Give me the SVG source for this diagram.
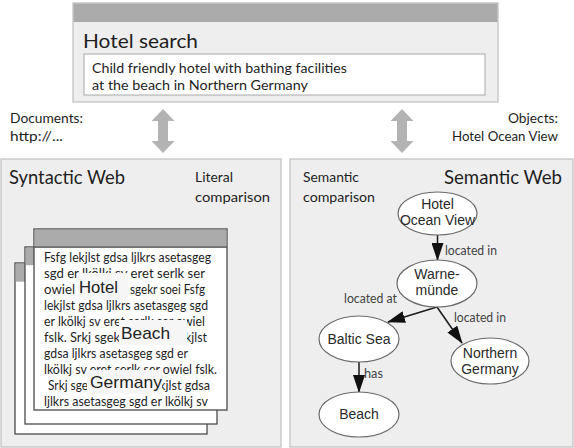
<svg xmlns="http://www.w3.org/2000/svg" width="574" height="448" viewBox="0 0 574 448">
<style>
.panel{fill:#eeeeee;stroke:#c4c4c4;stroke-width:1.3}
.hdr{fill:#ababab}
.cal{font-family:Lato,"Open Sans",sans-serif;fill:#1e1e1e}
.big{font-size:20px}
.mid{font-size:14px}
.doc{font-size:13.5px}
.lbl{font-family:Lato,"Open Sans",sans-serif;font-size:12.5px;fill:#444}
.node ellipse{fill:#ffffff;stroke:#6a6a6a;stroke-width:1.2}
.nt{font-family:"Liberation Sans",Arial,sans-serif;font-size:14px;fill:#2a2a2a;text-anchor:middle}
.ov{font-family:"Liberation Sans",Arial,sans-serif;font-size:17px;fill:#222}
.ovbg{fill:#f6f6f6}
.sheet{fill:#ffffff;stroke:#4a4a4a;stroke-width:1.3}
.edge{stroke:#1a1a1a;stroke-width:1.5;fill:none;marker-end:url(#ah)}
.dbl{fill:#b3b3b3}
</style>
<defs>
<marker id="ah" markerUnits="userSpaceOnUse" markerWidth="18" markerHeight="12" refX="17" refY="6" orient="auto">
<path d="M0,0 L18,6 L0,12 z" fill="#111"/>
</marker>
<path id="darrow" d="M0,0 L11.5,12 L5,12 L5,32 L11.5,32 L0,44 L-11.5,32 L-5,32 L-5,12 L-11.5,12 z"/>
</defs>

<g id="hotel-search">
<rect x="73" y="3" width="425" height="99" class="panel"/>
<rect x="73.5" y="3.5" width="424" height="18.5" class="hdr"/>
<text x="83" y="48" class="cal big" textLength="115" lengthAdjust="spacingAndGlyphs">Hotel search</text>
<rect x="84" y="54" width="401" height="41" fill="#ffffff" stroke="#a8a8a8" stroke-width="1"/>
<text x="92" y="73" class="cal mid" textLength="255" lengthAdjust="spacingAndGlyphs">Child friendly hotel with bathing facilities</text>
<text x="92" y="90" class="cal mid" textLength="216" lengthAdjust="spacingAndGlyphs">at the beach in Northern Germany</text>
</g>

<g id="connectors-top">
<use href="#darrow" x="163" y="109" class="dbl"/>
<use href="#darrow" x="402" y="109" class="dbl"/>
</g>

<g id="side-labels">
<text x="10" y="123" class="cal mid" textLength="73" lengthAdjust="spacingAndGlyphs">Documents:</text>
<text x="10" y="141" class="cal mid" textLength="53" lengthAdjust="spacingAndGlyphs">http://...</text>
<text x="508" y="123" class="cal mid" textLength="50" lengthAdjust="spacingAndGlyphs">Objects:</text>
<text x="452" y="141" class="cal mid" textLength="106" lengthAdjust="spacingAndGlyphs">Hotel Ocean View</text>
</g>

<g id="syntactic-web">
<rect x="1" y="159" width="280" height="288" class="panel"/>
<text x="9" y="184" class="cal big" textLength="116" lengthAdjust="spacingAndGlyphs">Syntactic Web</text>
<text x="195" y="182" class="cal mid" textLength="38" lengthAdjust="spacingAndGlyphs">Literal</text>
<text x="195" y="202" class="cal mid" textLength="75" lengthAdjust="spacingAndGlyphs">comparison</text>
</g>

<g id="doc-back">
<rect x="15" y="263" width="192" height="171" class="sheet"/>
<rect x="15.7" y="263.7" width="190.6" height="18" class="hdr"/>
</g>
<g id="doc-middle">
<rect x="25" y="247" width="192" height="177" class="sheet"/>
<rect x="25.7" y="247.7" width="190.6" height="17.5" class="hdr"/>
</g>
<g id="doc-front">
<rect x="34" y="229" width="193" height="181" class="sheet"/>
<rect x="34.7" y="229.7" width="191.6" height="17.5" class="hdr"/>
<line x1="34" y1="247.2" x2="227" y2="247.2" stroke="#4a4a4a" stroke-width="1.2"/>
<text x="44" y="262" class="cal doc" textLength="167" lengthAdjust="spacingAndGlyphs">Fsfg lekjlst gdsa ljlkrs asetasgeg</text>
<text x="44" y="278" class="cal doc" textLength="161" lengthAdjust="spacingAndGlyphs">sgd er lkölkj sv eret serlk ser</text>
<text x="44" y="294" class="cal doc" textLength="31" lengthAdjust="spacingAndGlyphs">owiel</text>
<text x="130" y="294" class="cal doc" textLength="75" lengthAdjust="spacingAndGlyphs">sgekr soei Fsfg</text>
<text x="44" y="310" class="cal doc" textLength="164" lengthAdjust="spacingAndGlyphs">lekjlst gdsa ljlkrs asetasgeg sgd</text>
<text x="44" y="326" class="cal doc" textLength="161" lengthAdjust="spacingAndGlyphs">er lkölkj sv eret serlk ser owiel</text>
<text x="44" y="342" class="cal doc" textLength="76" lengthAdjust="spacingAndGlyphs">fslk.  Srkj sgek</text>
<text x="185" y="342" class="cal doc" textLength="22" lengthAdjust="spacingAndGlyphs">kjlst</text>
<text x="44" y="358" class="cal doc" textLength="144" lengthAdjust="spacingAndGlyphs">gdsa ljlkrs asetasgeg sgd er</text>
<text x="44" y="374" class="cal doc" textLength="173" lengthAdjust="spacingAndGlyphs">lkölkj sv eret serlk ser owiel fslk.</text>
<text x="48" y="390" class="cal doc" textLength="40" lengthAdjust="spacingAndGlyphs">Srkj sge</text>
<text x="159" y="390" class="cal doc" textLength="51" lengthAdjust="spacingAndGlyphs">kjlst gdsa</text>
<text x="44" y="406" class="cal doc" textLength="164" lengthAdjust="spacingAndGlyphs">ljlkrs asetasgeg sgd er lkölkj sv</text>
<rect x="78" y="273" width="50" height="27" class="ovbg"/>
<text x="79" y="293" class="ov" textLength="39" lengthAdjust="spacingAndGlyphs">Hotel</text>
<rect x="119" y="320" width="68" height="25" class="ovbg"/>
<text x="121" y="339" class="ov" textLength="49" lengthAdjust="spacingAndGlyphs">Beach</text>
<rect x="87" y="370" width="75" height="24" class="ovbg"/>
<text x="90" y="388" class="ov" textLength="72" lengthAdjust="spacingAndGlyphs">Germany</text>
</g>

<g id="semantic-web">
<rect x="290" y="159" width="283" height="288" class="panel"/>
<text x="444" y="184" class="cal big" textLength="118" lengthAdjust="spacingAndGlyphs">Semantic Web</text>
<text x="303" y="182" class="cal mid" textLength="56" lengthAdjust="spacingAndGlyphs">Semantic</text>
<text x="303" y="202" class="cal mid" textLength="72" lengthAdjust="spacingAndGlyphs">comparison</text>
</g>

<g id="connectors">
<line x1="437.5" y1="235" x2="437.5" y2="260" class="edge"/>
<line x1="437" y1="307" x2="388" y2="322" class="edge"/>
<line x1="437" y1="307" x2="462" y2="343" class="edge"/>
<line x1="359" y1="362" x2="359" y2="392" class="edge"/>
<text x="445" y="255" class="lbl" textLength="52" lengthAdjust="spacingAndGlyphs">located in</text>
<text x="344" y="303" class="lbl" textLength="53" lengthAdjust="spacingAndGlyphs">located at</text>
<text x="454" y="322" class="lbl" textLength="52" lengthAdjust="spacingAndGlyphs">located in</text>
<text x="364" y="378" class="lbl" textLength="19" lengthAdjust="spacingAndGlyphs">has</text>
</g>

<g id="node-hotel-ocean-view" class="node">
<ellipse cx="437.5" cy="213.5" rx="39.5" ry="21.5"/>
<text x="437.5" y="209" class="nt">Hotel</text>
<text x="437.5" y="225" class="nt">Ocean View</text>
</g>
<g id="node-warnemuende" class="node">
<ellipse cx="437" cy="283.5" rx="40" ry="23.5"/>
<text x="437" y="279" class="nt">Warne-</text>
<text x="437" y="295" class="nt">münde</text>
</g>
<g id="node-baltic-sea" class="node">
<ellipse cx="359" cy="339" rx="40" ry="23"/>
<text x="359" y="344" class="nt">Baltic Sea</text>
</g>
<g id="node-northern-germany" class="node">
<ellipse cx="490" cy="361" rx="39" ry="23"/>
<text x="490" y="358" class="nt">Northern</text>
<text x="490" y="374" class="nt">Germany</text>
</g>
<g id="node-beach" class="node">
<ellipse cx="359" cy="414.5" rx="40" ry="22.5"/>
<text x="359" y="419" class="nt">Beach</text>
</g>
</svg>
